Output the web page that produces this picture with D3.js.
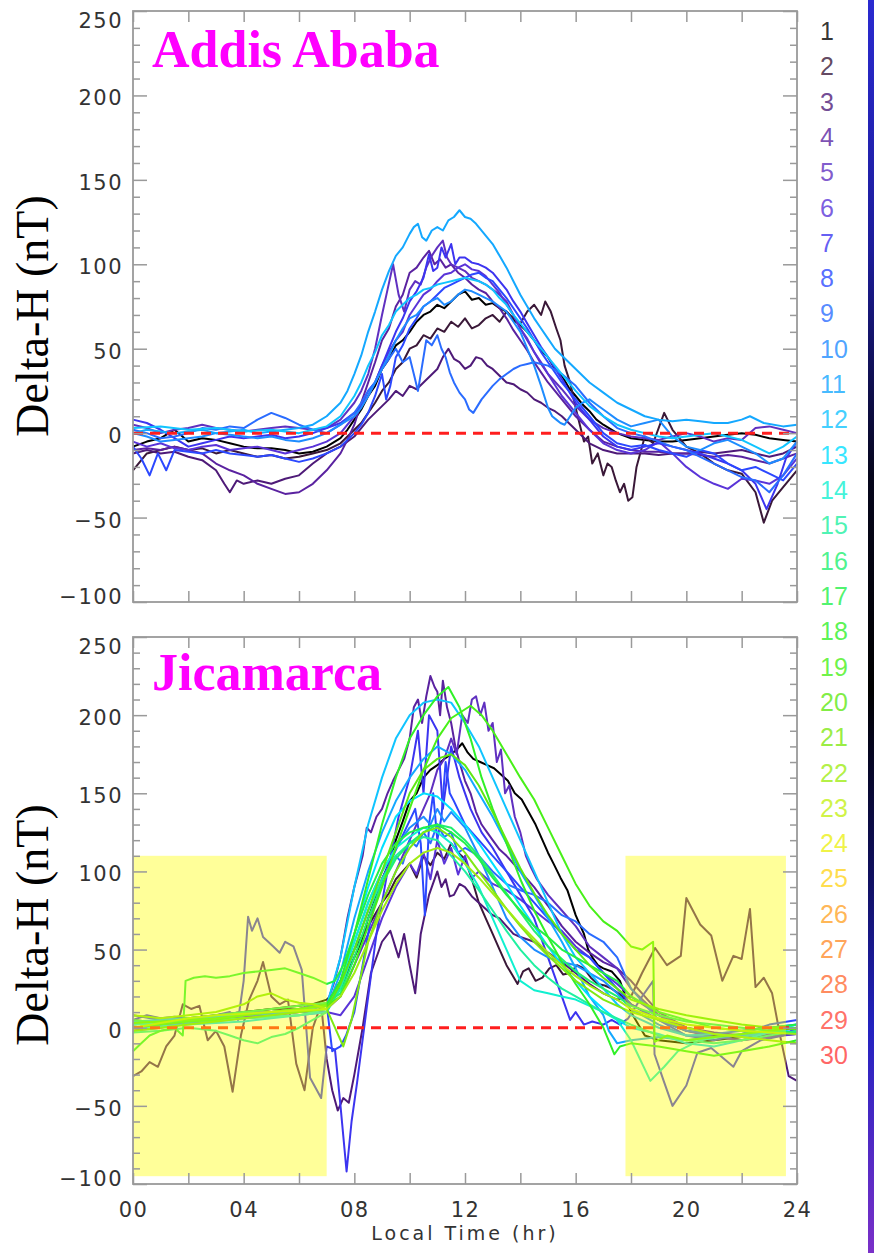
<!DOCTYPE html>
<html><head><meta charset="utf-8">
<script src="https://cdn.jsdelivr.net/npm/d3@7"></script>
<style>body{margin:0;background:#fff}</style></head>
<body>
<svg id="c" width="874" height="1253"></svg>
<script>
// ---------- data ----------
const legendDays = d3.range(1, 31);
const dayColors = ["#000000","#3a1838","#4e1a78","#5a22a0","#6030c0","#5a34d8","#3c34f0","#2c48ff","#2a6cff","#1e8cff",
  "#14a8ff","#10c4ff","#00e0ff","#10f0d0","#20f0a0","#20f070","#22f048","#30f028","#48f018","#60e812",
  "#80e812","#a0ec14","#c4f014","#ecf014","#ffd41c","#ffa428","#ff8c2c","#ff6c34","#ff4c40","#ff3c3c"];
const xTickValues = [0,2,4,6,8,10,12,14,16,18,20,22,24];
const xTickLabels = ["00","","04","","08","","12","","16","","20","","24"];
const yMajorTicks = [-100,-50,0,50,100,150,200,250];
const yTickLabels = ["\u2212100","\u221250","0","50","100","150","200","250"];
const titles = ["Addis Ababa","Jicamarca"];
const nightBands = [[0,7],[17.8,23.6]];
const bandValueRange = [-95,110];

// Addis Ababa series (day number, [hour, nT] points)
const addisDays = [1,2,3,4,5,6,7,8,9,10,11,12];
const addis1 = [[0,-8],[0.5,-5],[1,-3],[1.5,2],[2,-5],[2.5,-3],[3,-4],[3.5,-6],[4,-8],[4.5,-9],[5,-9],[5.5,-10],[6,-12],[6.5,-11],[7,-8],[7.5,-3],[7.75,2],[8,8],[8.25,14],[8.5,22],[8.75,28],[9,38],[9.25,44],[9.5,52],[9.75,55],[10,60],[10.25,66],[10.5,70],[10.75,72],[11,76],[11.25,74],[11.5,78],[11.75,82],[12,84],[12.25,79],[12.5,80],[12.75,76],[13,77],[13.25,74],[13.5,72],[13.75,67],[14,64],[14.25,60],[14.5,55],[14.75,49],[15,45],[15.25,38],[15.5,34],[15.75,27],[16,22],[16.25,17],[16.5,13],[16.75,8],[17,5],[17.5,0],[18,-3],[18.5,-4],[19,-5],[19.5,-5],[20,-4],[20.5,-3],[21,-2],[21.5,-1],[22,0],[22.5,-1],[23,-3],[23.5,-4],[24,-5]];
const addis2 = [[0,-22],[0.5,-12],[1,-10],[1.5,-8],[2,-10],[2.5,-9],[3,-12],[3.5,-10],[4,-12],[4.5,-14],[5,-13],[5.5,-15],[6,-14],[6.5,-12],[7,-10],[7.5,-6],[7.75,-2],[8,2],[8.25,6],[8.5,12],[8.75,18],[9,25],[9.25,30],[9.5,38],[9.75,42],[10,50],[10.25,52],[10.5,58],[10.75,56],[11,62],[11.25,60],[11.5,66],[11.75,63],[12,68],[12.25,62],[12.5,64],[12.75,68],[13,70],[13.25,66],[13.5,72],[13.75,68],[14,65],[14.25,72],[14.5,76],[14.75,70],[14.9,78],[15.1,72],[15.3,62],[15.45,55],[15.6,40],[15.8,30],[16,15],[16.15,5],[16.3,-5],[16.45,-2],[16.6,-18],[16.8,-12],[17,-25],[17.15,-18],[17.3,-20],[17.45,-28],[17.6,-35],[17.75,-30],[17.9,-40],[18.05,-38],[18.2,-20],[18.5,-2],[18.8,-6],[19.2,12],[19.5,2],[20,-8],[20.5,-12],[21,-18],[21.5,-22],[22,-24],[22.5,-35],[22.8,-53],[23.1,-40],[23.5,-32],[24,-22]];
const addis3 = [[0,-12],[0.5,-10],[1,-12],[1.5,-11],[2,-14],[2.5,-16],[3,-22],[3.3,-30],[3.5,-35],[3.75,-28],[4,-30],[4.5,-28],[5,-30],[5.5,-27],[6,-25],[6.5,-18],[7,-12],[7.5,-8],[8,-2],[8.25,3],[8.5,8],[8.75,12],[9,16],[9.25,20],[9.5,25],[9.75,22],[10,28],[10.25,26],[10.5,30],[10.75,34],[11,38],[11.2,45],[11.4,50],[11.6,44],[11.8,42],[12,38],[12.2,40],[12.4,45],[12.6,44],[12.8,40],[13,38],[13.25,34],[13.5,30],[13.75,29],[14,26],[14.25,24],[14.5,20],[14.75,18],[15,15],[15.25,13],[15.5,10],[15.75,6],[16,2],[16.5,-6],[17,-10],[17.5,-12],[18,-12],[18.5,-12],[19,-13],[19.5,-12],[20,-12],[20.5,-11],[21,-12],[21.5,-11],[22,-10],[22.5,-12],[23,-14],[23.5,-12],[24,-8]];
const addis4 = [[0,-10],[0.5,-9],[1,-10],[1.5,-8],[2,-10],[2.5,-12],[3,-18],[3.5,-22],[4,-25],[4.5,-30],[5,-33],[5.5,-36],[6,-35],[6.5,-30],[7,-22],[7.5,-12],[7.75,-4],[8,5],[8.25,18],[8.5,30],[8.75,42],[9,55],[9.25,62],[9.5,75],[9.75,82],[10,95],[10.25,98],[10.5,104],[10.7,108],[10.9,100],[11.1,103],[11.3,98],[11.5,100],[11.75,95],[12,92],[12.25,88],[12.5,85],[12.75,83],[13,78],[13.25,74],[13.5,68],[13.75,61],[14,55],[14.25,49],[14.5,42],[14.75,36],[15,30],[15.5,20],[16,10],[16.5,2],[17,-5],[17.5,-8],[18,-10],[18.5,-11],[19,-11],[19.5,-12],[20,-12],[20.5,-13],[21,-14],[21.5,-13],[22,-14],[22.5,-16],[23,-18],[23.5,-15],[24,-12]];
const addis5 = [[0,5],[0.5,3],[1,0],[1.5,2],[2,3],[2.5,5],[3,3],[3.5,2],[4,1],[4.5,2],[5,3],[5.5,4],[6,3],[6.5,2],[7,3],[7.5,8],[8,18],[8.25,25],[8.5,35],[8.75,50],[9,70],[9.2,85],[9.4,100],[9.6,82],[9.8,72],[10,85],[10.2,90],[10.4,88],[10.6,98],[10.8,105],[11,110],[11.2,114],[11.35,104],[11.5,100],[11.75,98],[12,96],[12.25,92],[12.5,90],[12.75,88],[13,85],[13.25,82],[13.5,78],[13.75,70],[14,62],[14.25,55],[14.5,48],[14.75,41],[15,35],[15.5,26],[16,16],[16.5,8],[17,3],[17.5,0],[18,-2],[18.5,-3],[19,-4],[19.5,-2],[20,0],[20.5,-2],[21,-5],[21.5,-3],[22,-4],[22.5,3],[23,4],[23.5,2],[24,0]];
const addis6 = [[0,-5],[0.5,-8],[1,-6],[1.5,-9],[2,-10],[2.5,-8],[3,-7],[3.5,-10],[4,-9],[4.5,-8],[5,-10],[5.5,-12],[6,-10],[6.5,-8],[7,-5],[7.5,0],[8,10],[8.25,17],[8.5,25],[8.75,30],[9,40],[9.25,48],[9.5,55],[9.75,60],[10,70],[10.25,76],[10.5,82],[10.75,85],[11,90],[11.25,94],[11.5,95],[11.75,98],[12,100],[12.25,97],[12.5,96],[12.75,93],[13,88],[13.25,83],[13.5,76],[13.75,70],[14,62],[14.25,56],[14.5,48],[14.75,42],[15,35],[15.5,22],[16,12],[16.5,2],[17,-6],[17.5,-10],[18,-12],[18.5,-10],[19,-5],[19.5,-12],[20,-20],[20.5,-26],[21,-30],[21.5,-33],[22,-27],[22.5,-28],[23,-30],[23.5,-25],[24,-15]];
const addis7 = [[0,8],[0.5,6],[1,2],[1.5,-3],[2,-8],[2.5,-6],[3,-4],[3.5,-2],[4,-3],[4.5,-2],[5,-1],[5.5,-3],[6,-2],[6.5,0],[7,3],[7.5,6],[8,12],[8.25,16],[8.5,22],[8.75,30],[9,40],[9.25,50],[9.5,60],[9.75,68],[10,78],[10.25,84],[10.5,92],[10.7,106],[10.85,96],[11,98],[11.15,110],[11.3,104],[11.5,112],[11.65,100],[11.8,104],[12,104],[12.25,101],[12.5,100],[12.75,98],[13,95],[13.25,90],[13.5,85],[13.75,78],[14,72],[14.25,65],[14.5,58],[14.75,51],[15,45],[15.5,32],[16,18],[16.5,8],[17,-2],[17.5,-8],[18,-10],[18.5,-8],[19,-6],[19.5,-8],[20,-10],[20.5,-12],[21,-15],[21.5,-18],[22,-22],[22.5,-30],[22.9,-45],[23.3,-30],[23.6,-15],[24,-5]];
const addis8 = [[0,-8],[0.3,-15],[0.6,-25],[0.9,-12],[1.2,-22],[1.5,-10],[2,-11],[2.5,-12],[3,-10],[3.5,-12],[4,-13],[4.5,-14],[5,-13],[5.5,-15],[6,-17],[6.5,-15],[7,-12],[7.5,-8],[8,0],[8.25,5],[8.5,12],[8.75,22],[9,35],[9.15,20],[9.3,28],[9.5,45],[9.75,52],[10,62],[10.25,68],[10.5,75],[10.75,78],[11,82],[11.25,86],[11.5,88],[11.75,90],[12,92],[12.25,94],[12.5,95],[12.75,92],[13,90],[13.25,85],[13.5,80],[13.75,74],[14,68],[14.25,62],[14.5,55],[14.75,48],[15,42],[15.5,30],[16,20],[16.5,10],[17,0],[17.5,-6],[18,-8],[18.5,-7],[19,-10],[19.5,-12],[20,-14],[20.5,-10],[21,-12],[21.5,-18],[22,-22],[22.5,-20],[23,-24],[23.5,-28],[24,-18]];
const addis9 = [[0,2],[0.5,0],[1,-3],[1.5,-2],[2,0],[2.5,3],[3,2],[3.5,4],[4,3],[4.5,8],[5,12],[5.5,9],[6,5],[6.5,2],[7,0],[7.5,5],[8,12],[8.25,18],[8.5,25],[8.75,30],[9,38],[9.25,44],[9.5,50],[9.75,42],[10,45],[10.15,35],[10.3,25],[10.45,40],[10.6,55],[10.8,52],[11,58],[11.15,50],[11.3,45],[11.45,36],[11.6,30],[11.8,24],[12,20],[12.15,14],[12.3,12],[12.45,16],[12.6,20],[12.8,24],[13,28],[13.25,32],[13.5,35],[13.75,38],[14,40],[14.25,41],[14.5,42],[14.75,41],[15,40],[15.5,35],[16,28],[16.5,18],[17,10],[17.5,3],[18,0],[18.5,-2],[19,-5],[19.5,-8],[20,-10],[20.5,-14],[21,-18],[21.5,-22],[22,-26],[22.5,-28],[23,-35],[23.5,-25],[24,-12]];
const addis10 = [[0,0],[0.5,-2],[1,-5],[1.5,-4],[2,-3],[2.5,-2],[3,0],[3.5,-1],[4,-2],[4.5,-3],[5,-2],[5.5,-4],[6,-5],[6.5,-3],[7,0],[7.5,5],[8,10],[8.25,15],[8.5,22],[8.75,30],[9,38],[9.25,46],[9.5,55],[9.75,62],[10,68],[10.25,70],[10.5,75],[10.75,78],[11,80],[11.25,76],[11.5,78],[11.75,82],[12,85],[12.25,84],[12.5,82],[12.75,80],[13,78],[13.25,75],[13.5,72],[13.75,66],[14,60],[14.25,50],[14.5,40],[14.75,28],[15,15],[15.15,10],[15.3,8],[15.45,6],[15.6,5],[15.8,10],[16,15],[16.25,18],[16.5,20],[16.75,17],[17,14],[17.5,8],[18,4],[18.5,6],[19,8],[19.5,-2],[20,-8],[20.5,-10],[21,-6],[21.5,-4],[22,-8],[22.5,-12],[23,-18],[23.5,-15],[24,-5]];
const addis11 = [[0,0],[0.5,2],[1,1],[1.5,0],[2,1],[2.5,2],[3,0],[3.5,1],[4,2],[4.5,0],[5,1],[5.5,2],[6,3],[6.5,5],[7,10],[7.5,18],[7.75,25],[8,35],[8.25,46],[8.5,60],[8.75,72],[9,85],[9.25,96],[9.5,105],[9.75,110],[10,118],[10.15,122],[10.3,124],[10.45,116],[10.6,114],[10.8,120],[11,122],[11.2,120],[11.4,126],[11.6,128],[11.8,132],[12,128],[12.2,127],[12.4,124],[12.6,120],[12.8,116],[13,112],[13.25,105],[13.5,98],[13.75,90],[14,82],[14.25,75],[14.5,68],[14.75,62],[15,56],[15.25,50],[15.5,46],[15.75,42],[16,38],[16.5,30],[17,24],[17.5,18],[18,14],[18.5,10],[19,8],[19.5,7],[20,8],[20.5,7],[21,6],[21.5,6],[22,8],[22.3,10],[22.8,6],[23.5,4],[24,5]];
const addis12 = [[0,3],[1,4],[2,2],[3,3],[4,1],[5,2],[6,0],[6.5,2],[7,4],[7.5,10],[8,22],[8.25,30],[8.5,40],[8.75,48],[9,58],[9.25,64],[9.5,72],[9.75,76],[10,80],[10.25,82],[10.5,85],[10.75,86],[11,88],[11.25,89],[11.5,90],[11.75,91],[12,92],[12.25,91],[12.5,90],[12.75,88],[13,85],[13.25,80],[13.5,76],[13.75,70],[14,65],[14.25,60],[14.5,55],[14.75,50],[15,45],[15.5,35],[16,25],[16.5,16],[17,10],[17.5,5],[18,2],[18.5,0],[19,-2],[19.5,-3],[20,-2],[20.5,-1],[21,0],[21.5,-2],[22,-4],[22.5,-8],[23,-12],[23.5,-8],[24,-2]];

// Jicamarca series
const jicaDays = [1,2,3,4,5,6,7,8,9,10,11,12,13,14,15,16,17,18,19,20,21,22];
const jica1 = [[0,0],[1,2],[2,5],[3,8],[4,10],[5,12],[6,14],[6.5,15],[7,18],[7.5,25],[8,45],[8.25,55],[8.5,70],[8.75,82],[9,95],[9.25,105],[9.5,120],[9.75,132],[10,145],[10.25,150],[10.5,160],[10.75,165],[11,168],[11.25,172],[11.5,175],[11.7,178],[11.9,182],[12.1,176],[12.3,172],[12.55,170],[12.8,168],[13.05,166],[13.3,162],[13.55,158],[13.8,150],[14.05,146],[14.3,138],[14.55,130],[14.8,120],[15,112],[15.2,105],[15.45,96],[15.7,88],[15.85,80],[16,72],[16.15,66],[16.3,60],[16.45,50],[16.6,45],[16.8,40],[17,38],[17.3,36],[17.6,30],[18,10],[18.5,-5],[19,-8],[20,-10],[21,-8],[22,-6],[23,-5],[24,-3]];
const jica2 = [[0,5],[1,3],[2,6],[3,8],[4,10],[5,12],[6,12],[7,15],[7.5,30],[8,50],[8.5,65],[9,80],[9.25,86],[9.5,95],[9.75,100],[10,105],[10.25,96],[10.5,110],[10.75,104],[11,112],[11.25,108],[11.5,118],[11.75,112],[12,108],[12.25,95],[12.5,80],[12.75,70],[13,60],[13.25,50],[13.5,40],[13.7,34],[13.9,28],[14.1,36],[14.3,38],[14.55,30],[14.8,32],[15.05,38],[15.3,40],[15.55,34],[15.8,35],[16.05,40],[16.3,38],[16.55,32],[16.8,28],[17.05,27],[17.3,25],[17.7,20],[18,15],[18.5,10],[19,5],[20,-2],[21,-5],[22,-8],[23,-5],[24,-4]];
const jica3 = [[0,-31],[0.3,-28],[0.6,-22],[0.9,-25],[1.2,-12],[1.5,-5],[1.8,15],[2.1,12],[2.4,14],[2.7,-8],[3,-2],[3.3,-12],[3.6,-41],[3.9,-5],[4.2,18],[4.5,30],[4.7,42],[5,20],[5.3,15],[5.6,18],[5.9,-23],[6.2,-40],[6.5,0],[6.8,15],[7,-20],[7.2,-40],[7.4,-53],[7.6,-45],[7.8,-48],[8,-30],[8.3,0],[8.6,35],[9,55],[9.3,62],[9.6,45],[9.8,60],[10,40],[10.2,22],[10.4,60],[10.7,85],[11,100],[11.15,90],[11.3,95],[11.45,84],[11.6,85],[11.8,92],[12,90],[12.25,84],[12.5,80],[12.75,76],[13,72],[13.25,70],[13.5,65],[13.75,60],[14,58],[14.5,55],[15,48],[15.5,42],[16,35],[16.5,28],[17,22],[17.5,18],[18,20],[18.4,35],[18.87,51],[19.3,40],[19.8,46],[20,83],[20.5,66],[20.9,59],[21.3,30],[21.7,46],[22,44],[22.3,76],[22.5,26],[22.8,32],[23.1,22],[23.4,-6],[23.7,-31],[24,-34]];
const jica4 = [[0,2],[1,4],[2,5],[3,6],[4,8],[5,9],[6,10],[6.5,12],[7,15],[7.25,28],[7.5,45],[7.75,70],[8,90],[8.15,100],[8.3,110],[8.45,128],[8.6,125],[8.8,135],[9,140],[9.2,150],[9.4,158],[9.6,165],[9.8,172],[10,185],[10.15,205],[10.3,210],[10.45,195],[10.6,212],[10.75,225],[10.9,218],[11,215],[11.1,200],[11.2,222],[11.35,205],[11.5,195],[11.65,180],[11.8,170],[12,158],[12.2,150],[12.4,138],[12.6,130],[12.8,125],[13,120],[13.25,114],[13.5,110],[13.75,105],[14,100],[14.5,90],[15,78],[15.5,65],[16,55],[16.5,48],[17,42],[17.5,38],[18,30],[19,10],[20,0],[21,-3],[22,-5],[23,-2],[24,0]];
const jica5 = [[0,-2],[1,0],[2,3],[3,5],[4,6],[5,8],[6,10],[7,12],[7.5,20],[8,40],[8.5,60],[9,80],[9.5,100],[10,120],[10.5,140],[10.75,150],[11,165],[11.25,172],[11.5,185],[11.7,175],[11.9,200],[12.1,195],[12.25,210],[12.4,212],[12.55,200],[12.7,208],[12.85,190],[13,195],[13.15,170],[13.3,178],[13.45,150],[13.6,155],[13.8,135],[14,125],[14.2,110],[14.4,102],[14.6,95],[15,85],[15.5,75],[16,65],[16.5,52],[17,45],[17.5,38],[18,25],[19,8],[20,0],[21,-4],[22,-6],[23,-4],[24,-2]];
const jica6 = [[0,0],[1,2],[2,4],[3,5],[4,7],[5,8],[6,10],[7,10],[7.5,8],[8,20],[8.5,45],[9,70],[9.5,90],[10,105],[10.25,98],[10.5,112],[10.75,95],[11,120],[11.25,105],[11.5,115],[11.75,98],[12,110],[12.25,96],[12.5,100],[13,92],[13.5,88],[14,82],[14.5,75],[15,68],[15.5,62],[16,52],[16.5,45],[17,35],[17.5,28],[18,20],[19,8],[20,-2],[21,-6],[22,-8],[23,-6],[24,-4]];
const jica7 = [[0,5],[0.5,8],[1,6],[1.5,7],[2,6],[2.5,5],[3,8],[3.5,10],[3.8,5],[4,30],[4.16,71],[4.3,62],[4.5,70],[4.7,58],[5.07,52],[5.3,48],[5.5,55],[5.8,52],[6.1,37],[6.4,-32],[6.8,-45],[7,-12],[7.3,-14],[7.5,-50],[7.72,-92],[7.9,-60],[8.1,-35],[8.45,13],[8.8,60],[9.2,100],[9.6,135],[10,160],[10.3,190],[10.5,150],[10.7,200],[11,190],[11.2,140],[11.5,180],[11.8,160],[12.2,140],[12.6,125],[13,115],[13.5,100],[14,85],[14.5,70],[15,45],[15.5,20],[15.8,5],[16,10],[16.3,2],[16.6,4],[17,2],[17.3,5],[17.6,2],[17.9,6],[18.4,20],[18.8,30],[18.85,-17],[19.2,-35],[19.5,-50],[20,-37],[20.4,-16],[20.9,-13],[21.7,-25],[22,-15],[22.7,-8],[23.5,-5],[24,0]];
const jica8 = [[0,8],[1,5],[2,6],[3,8],[4,10],[5,10],[6,12],[6.5,14],[7,15],[7.2,-15],[7.5,-12],[7.7,-5],[8,10],[8.3,40],[8.6,70],[9,95],[9.4,110],[9.8,125],[10.2,140],[10.4,118],[10.55,72],[10.7,130],[10.85,150],[11,120],[11.15,135],[11.3,170],[11.45,150],[11.6,145],[12,130],[12.5,120],[13,110],[13.5,100],[14,90],[14.5,80],[15,70],[15.5,60],[16,50],[16.5,45],[17,35],[17.5,25],[18,15],[19,5],[20,-5],[21,-8],[22,-4],[23,2],[24,5]];
const jica9 = [[0,3],[1,4],[2,6],[3,7],[4,9],[5,10],[6,12],[7,14],[7.5,25],[8,50],[8.5,75],[9,95],[9.25,102],[9.5,110],[9.75,105],[10,120],[10.25,116],[10.5,125],[10.75,118],[11,130],[11.25,122],[11.5,125],[11.75,112],[12,115],[12.5,110],[13,100],[13.5,92],[14,88],[14.5,85],[15,80],[15.5,72],[16,68],[16.5,60],[17,55],[17.5,45],[18,25],[19,5],[20,-2],[21,-4],[22,-2],[23,0],[24,2]];
const jica10 = [[0,0],[1,2],[2,3],[3,4],[4,6],[5,7],[6,8],[7,10],[7.5,30],[8,55],[8.5,80],[9,100],[9.5,115],[10,128],[10.5,135],[10.75,130],[11,140],[11.25,132],[11.5,138],[12,128],[12.5,110],[13,90],[13.5,70],[14,58],[14.5,50],[15,45],[15.5,42],[16,40],[16.5,35],[17,30],[17.5,22],[18,12],[19,2],[20,-5],[21,-6],[22,-5],[23,-3],[24,0]];
const jica11 = [[0,2],[1,3],[2,5],[3,6],[4,8],[5,9],[6,10],[7,12],[7.5,35],[8,70],[8.5,100],[9,125],[9.5,145],[10,160],[10.5,172],[11,180],[11.5,175],[12,165],[12.5,150],[13,135],[13.5,118],[14,100],[14.5,85],[15,70],[15.5,55],[16,38],[16.5,20],[17,8],[17.2,-2],[17.5,-10],[18,-8],[19,-6],[20,-8],[21,-6],[22,-5],[23,-2],[24,2]];
const jica12 = [[0,4],[1,5],[2,6],[3,7],[4,9],[5,10],[6,11],[7,14],[7.5,45],[8,90],[8.5,130],[9,160],[9.5,185],[10,200],[10.5,208],[11,210],[11.5,208],[12,195],[12.5,180],[13,160],[13.5,140],[14,120],[14.5,100],[15,80],[15.5,60],[16,45],[16.5,35],[17,25],[17.5,15],[18,8],[19,0],[20,-5],[21,-4],[22,-6],[23,-3],[24,0]];
const jica13 = [[0,0],[1,1],[2,2],[3,3],[4,4],[5,6],[6,8],[7,10],[7.5,28],[8,60],[8.5,90],[9,115],[9.5,135],[10,145],[10.5,150],[11,148],[11.5,140],[12,130],[12.5,118],[13,105],[13.5,92],[14,78],[14.5,65],[15,52],[15.5,40],[16,30],[16.5,20],[17,12],[17.5,5],[18,0],[19,-4],[20,-10],[21,-12],[22,-8],[23,-3],[24,0]];
const jica14 = [[0,2],[1,3],[2,4],[3,5],[4,6],[5,7],[6,8],[7,12],[7.5,30],[8,55],[8.5,80],[9,100],[9.5,115],[10,122],[10.5,128],[11,125],[11.5,118],[12,105],[12.5,90],[13,70],[13.5,50],[14,30],[14.5,24],[15,22],[15.5,20],[16,18],[16.5,14],[17,10],[17.5,5],[18,-8],[18.7,-34],[19.2,-25],[19.7,-15],[20.5,-8],[21.5,-5],[22.5,-3],[23.5,0],[24,2]];
const jica15 = [[0,-3],[1,-2],[2,0],[3,-2],[3.5,-5],[4,-8],[4.5,-10],[5,-6],[5.5,-4],[6,0],[6.5,5],[7,10],[7.5,25],[8,50],[8.5,75],[9,95],[9.5,110],[10,118],[10.5,122],[11,120],[11.5,110],[12,100],[12.5,88],[13,75],[13.5,62],[14,50],[14.5,40],[15,32],[15.5,25],[16,20],[16.5,15],[17,10],[17.5,6],[18,2],[19,-5],[20,-8],[21,-10],[22,-8],[23,-5],[24,-2]];
const jica16 = [[0,5],[1,3],[2,6],[3,8],[4,10],[5,12],[6,14],[7,16],[7.5,22],[8,45],[8.5,70],[9,92],[9.5,108],[10,118],[10.5,125],[11,130],[11.5,128],[12,120],[12.5,110],[13,98],[13.5,86],[14,74],[14.5,62],[15,52],[15.5,44],[16,36],[16.5,30],[17,25],[17.5,20],[18,14],[19,8],[20,4],[21,2],[22,0],[23,-2],[24,-3]];
const jica17 = [[0,-15],[0.3,-10],[0.6,-5],[1,-2],[1.5,0],[1.8,-5],[1.9,30],[2.2,32],[2.6,33],[3,32],[3.5,33],[4,35],[4.5,36],[5,37],[5.5,38],[6,35],[6.5,32],[7,28],[7.3,30],[7.6,40],[8,60],[8.5,85],[9,105],[9.5,118],[10,125],[10.5,128],[11,130],[11.5,125],[12,118],[12.5,108],[13,96],[13.5,85],[14,75],[14.5,65],[15,58],[15.5,50],[16,45],[16.5,40],[17,35],[17.5,30],[18,20],[19,10],[20,5],[21,0],[22,-2],[23,0],[24,2]];
const jica18 = [[0,0],[1,2],[2,4],[3,5],[4,8],[5,10],[6,12],[7,15],[7.5,30],[8,60],[8.5,95],[9,130],[9.5,160],[10,185],[10.5,200],[11,212],[11.4,218],[11.8,205],[12.2,185],[12.6,160],[13,140],[13.5,118],[14,95],[14.5,75],[15,58],[15.5,42],[16,28],[16.5,15],[17,0],[17.4,-17],[17.6,-12],[18,-10],[19,-12],[20,-15],[21,-18],[22,-15],[23,-12],[24,-8]];
const jica19 = [[0,3],[1,4],[2,5],[3,6],[4,8],[5,10],[6,12],[7,14],[7.5,20],[8,40],[8.5,65],[9,90],[9.5,115],[10,140],[10.5,165],[11,185],[11.5,198],[12.2,206],[12.6,200],[13,190],[13.5,175],[14,160],[14.5,146],[15,128],[15.5,110],[16,92],[16.5,78],[17,68],[17.5,62],[17.7,58],[18,52],[18.4,50],[18.8,55],[18.85,-9],[19.3,-5],[20,-8],[21,-6],[22,-4],[23,-2],[24,0]];
const jica20 = [[0,-2],[1,0],[2,2],[3,4],[4,6],[5,8],[6,10],[7,12],[7.5,28],[8,50],[8.5,75],[9,100],[9.5,125],[10,150],[10.5,165],[11,172],[11.5,175],[12,168],[12.5,155],[13,138],[13.5,120],[14,102],[14.5,86],[15,72],[15.5,60],[16,50],[16.5,40],[17,32],[17.5,25],[18,18],[19,12],[20,8],[21,5],[22,2],[23,0],[24,-1]];
const jica21 = [[0,8],[1,6],[2,8],[3,10],[4,15],[4.5,20],[5,22],[5.5,18],[6,16],[6.5,15],[7,12],[7.3,0],[7.6,-12],[7.9,5],[8.2,30],[8.5,55],[9,80],[9.5,100],[10,115],[10.5,125],[11,128],[11.5,122],[12,112],[12.5,100],[13,88],[13.5,76],[14,65],[14.5,55],[15,46],[15.5,38],[16,30],[16.5,24],[17,18],[17.5,14],[18,10],[19,5],[20,0],[21,-4],[22,-6],[23,-8],[24,-10]];
const jica22 = [[0,0],[1,3],[2,6],[3,8],[4,9],[5,10],[6,11],[7,12],[7.5,20],[8,35],[8.5,55],[9,75],[9.5,92],[10,105],[10.5,112],[11,115],[11.5,112],[12,105],[12.5,96],[13,86],[13.5,76],[14,66],[14.5,57],[15,48],[15.5,40],[16,33],[16.5,27],[17,22],[17.5,18],[18,12],[19,6],[20,2],[21,0],[22,-2],[23,-3],[24,-4]];

const addisSeries = [addis1,addis2,addis3,addis4,addis5,addis6,addis7,addis8,addis9,addis10,addis11,addis12];
const jicaSeries = [jica1,jica2,jica3,jica4,jica5,jica6,jica7,jica8,jica9,jica10,jica11,jica12,jica13,jica14,jica15,jica16,jica17,jica18,jica19,jica20,jica21,jica22];

// ---------- drawing ----------
const svg = d3.select("#c");
const x = d3.scaleLinear().domain([0,24]).range([133,797]);
const color = d3.scaleOrdinal().domain(legendDays).range(dayColors);
const tickFont = "'DejaVu Sans', sans-serif";
const axisGrey = "#9a9a9a";

// right-edge gradient bar
const defs = svg.append("defs");
const grad = defs.append("linearGradient").attr("id","edge").attr("x1",0).attr("x2",0).attr("y1",0).attr("y2",1);
[[0,"#2a2ad0"],[0.2,"#1c1c9a"],[0.38,"#06061c"],[0.55,"#000000"],[0.7,"#101060"],[0.82,"#2222c0"],[1,"#7a30c8"]]
  .forEach(s => grad.append("stop").attr("offset",s[0]).attr("stop-color",s[1]));
svg.append("rect").attr("x",868).attr("y",0).attr("width",6).attr("height",1253).attr("fill","url(#edge)");

const panels = [
  {y: d3.scaleLinear().domain([-100,250]).range([602,11]), series: addisSeries, days: addisDays, title: titles[0], titleY: 67, labelY: 316, xLabels: false, bands: false},
  {y: d3.scaleLinear().domain([-100,250]).range([1184,637]), series: jicaSeries, days: jicaDays, title: titles[1], titleY: 690, labelY: 925, xLabels: true, bands: true}
];

panels.forEach(p => {
  const y = p.y;
  const [yb, yt] = y.range();
  const g = svg.append("g");
  const line = d3.line().x(d => x(d[0])).y(d => y(d[1]));

  p.series.forEach((s, i) => {
    g.append("path").attr("d", line(s)).attr("fill","none")
      .attr("stroke", color(p.days[i])).attr("stroke-width", 2).attr("stroke-linejoin","round");
  });
  g.append("line").attr("x1", x(0)).attr("x2", x(24)).attr("y1", y(0)).attr("y2", y(0))
    .attr("stroke","#ff1e1e").attr("stroke-width",3).attr("stroke-dasharray","10,7");

  if (p.bands) {
    nightBands.forEach(b => {
      g.append("rect").attr("x", x(b[0])).attr("width", x(b[1]) - x(b[0]))
        .attr("y", y(bandValueRange[1])).attr("height", y(bandValueRange[0]) - y(bandValueRange[1]))
        .attr("fill","#ffff00").attr("fill-opacity",0.4);
    });
  }

  const styleAxis = sel => {
    sel.select(".domain").remove();
    sel.selectAll("line").attr("stroke", axisGrey).attr("stroke-width",1.5);
    sel.selectAll("text").attr("fill","#333").style("font-family", tickFont).style("font-size","21px").style("letter-spacing","1.5px");
  };
  const minorVals = d3.range(-90,250,10).filter(v => v % 50 !== 0);
  const left = g.append("g").attr("transform",`translate(${x(0)},0)`)
    .call(d3.axisLeft(y).tickValues(yMajorTicks).tickSize(-14).tickPadding(10)
      .tickFormat((d,i) => yTickLabels[i]));
  styleAxis(left);
  left.selectAll("text").attr("y", d => Math.min(Math.max(y(d) + 2, yt + 9), yb - 6) - y(d)).attr("dy","0.36em");
  styleAxis(g.append("g").attr("transform",`translate(${x(0)},0)`)
    .call(d3.axisLeft(y).tickValues(minorVals).tickSize(-7).tickFormat("")));
  styleAxis(g.append("g").attr("transform",`translate(${x(24)},0)`)
    .call(d3.axisRight(y).tickValues(yMajorTicks).tickSize(-14).tickFormat("")));
  styleAxis(g.append("g").attr("transform",`translate(${x(24)},0)`)
    .call(d3.axisRight(y).tickValues(minorVals).tickSize(-7).tickFormat("")));
  const bottom = g.append("g").attr("transform",`translate(0,${yb})`)
    .call(d3.axisBottom(x).tickValues(xTickValues).tickSize(-11).tickPadding(18)
      .tickFormat((d,i) => p.xLabels ? xTickLabels[i] : ""));
  styleAxis(bottom);
  styleAxis(g.append("g").attr("transform",`translate(0,${yt})`)
    .call(d3.axisTop(x).tickValues(xTickValues).tickSize(-11).tickFormat("")));

  g.append("rect").attr("x", x(0)).attr("y", yt).attr("width", x(24) - x(0)).attr("height", yb - yt)
    .attr("fill","none").attr("stroke", axisGrey).attr("stroke-width",1.8);

  g.append("text").attr("x",152).attr("y",p.titleY).text(p.title)
    .style("font-family","'Liberation Serif', 'Times New Roman', serif").style("font-weight","bold")
    .style("font-size","52px").attr("fill","#ff00ff");

  g.append("text").attr("transform",`translate(48,${p.labelY}) rotate(-90)`).attr("text-anchor","middle")
    .text("Delta-H (nT)").style("font-family","'Liberation Serif', 'Times New Roman', serif")
    .style("font-size","46px").attr("fill","#000");
});

svg.append("text").attr("x", (x(0)+x(24))/2).attr("y",1240).attr("text-anchor","middle")
  .text("Local Time (hr)").style("font-family", tickFont).style("font-size","19px")
  .style("letter-spacing","3px").attr("fill","#333");

const ly = d3.scaleLinear().domain([1,30]).range([31,1055]);
svg.append("g").selectAll("text").data(legendDays).join("text")
  .attr("x", 820).attr("y", d => ly(d)).attr("dy","0.36em")
  .text(d => d).attr("fill", d => color(d)).attr("fill-opacity",0.8)
  .style("font-family","'Liberation Sans', Arial, sans-serif").style("font-size","25px");
</script>
</body></html>
